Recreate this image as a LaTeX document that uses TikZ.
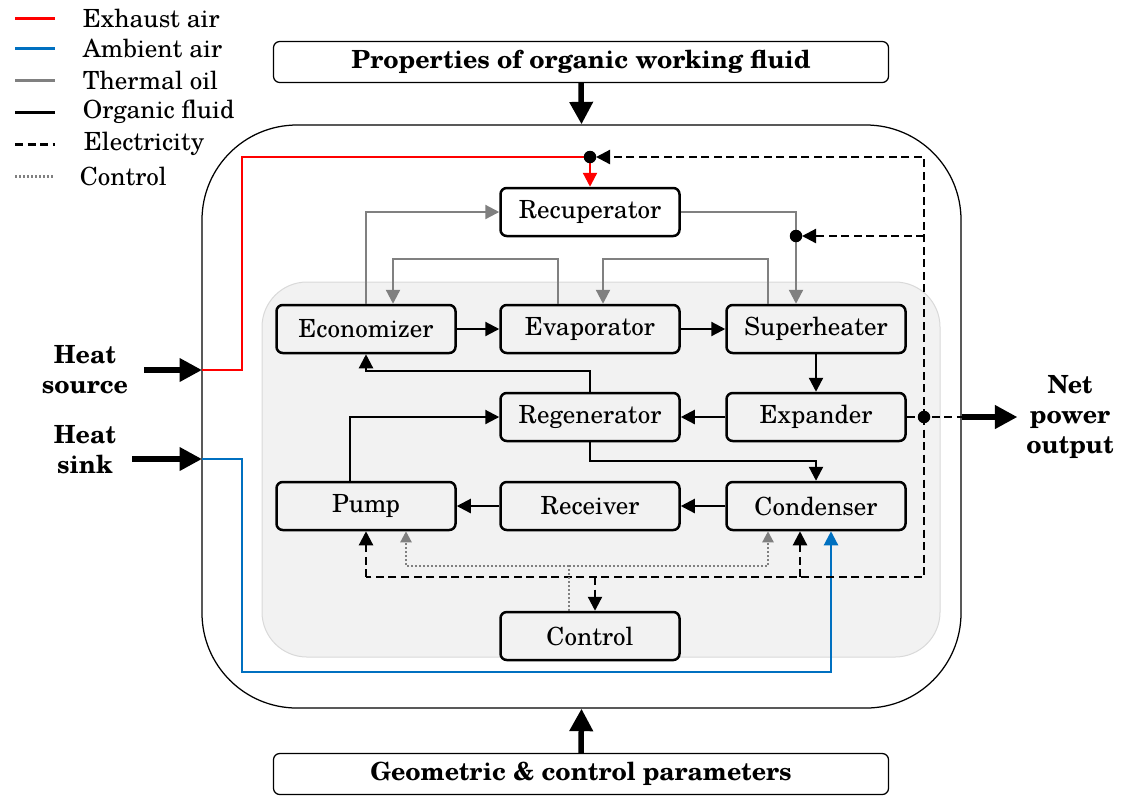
\documentclass[tikz,border=0pt]{standalone}
\usepackage{fontspec}
\setmainfont{TeX Gyre Schola}
\usetikzlibrary{arrows.meta}
\definecolor{ambientblue}{RGB}{0,112,192}

\begin{document}
\begin{tikzpicture}[x=0.4pt,y=-0.4pt,
        every node/.style={font=\fontsize{10}{12}\selectfont},
        unit/.style={draw=black,line width=1pt,rounded corners=2.5pt,fill=gray!10,minimum width=71.6pt,minimum height=19.2pt,inner sep=0pt},
        param/.style={draw=black,line width=0.5pt,rounded corners=2.5pt,fill=white,minimum width=246pt,minimum height=16.4pt,inner sep=0pt,font=\fontsize{10}{12}\selectfont\bfseries},
        side/.style={align=center,font=\fontsize{10}{12}\selectfont\bfseries},
        fluid/.style={draw=black,line width=0.9pt,-{Triangle[length=5.6pt,width=5.6pt]}},
        oil/.style={draw=gray,line width=0.9pt,-{Triangle[length=5.6pt,width=5.6pt]}},
        exhaust/.style={draw=red,line width=0.9pt,-{Triangle[length=5.6pt,width=5.6pt]}},
        ambient/.style={draw=ambientblue,line width=0.9pt,-{Triangle[length=5.6pt,width=5.6pt]}},
        elec/.style={draw=black,line width=0.9pt,dash pattern=on 3.2pt off 1.8pt,-{Triangle[length=5.6pt,width=5.6pt]}},
        ctrlline/.style={draw=gray,line width=0.9pt,dash pattern=on 0.8pt off 0.8pt,-{Triangle[length=4.4pt,width=4.4pt]}},
        big/.style={draw=black,line width=2.2pt,-{Triangle[length=9pt,width=9pt]}}]
        \useasboundingbox (0,0) rectangle (1124,796);

        % legend
        \draw[red,line width=1.2pt] (15,18) -- (55,18);
        \draw[ambientblue,line width=1.2pt] (15,48) -- (55,48);
        \draw[gray,line width=1.2pt] (15,80) -- (55,80);
        \draw[black,line width=1.2pt] (15,112) -- (55,112);
        \draw[black,line width=1.2pt,dash pattern=on 3.2pt off 1.8pt] (15,144) -- (55,144);
        \draw[gray,line width=1.2pt,dash pattern=on 0.8pt off 0.8pt] (15,176) -- (55,176);
        \node[anchor=west] (lg1) at (74,18) {Exhaust air};
        \node[anchor=west] (lg2) at (74,48) {Ambient air};
        \node[anchor=west] (lg3) at (74,80) {Thermal oil};
        \node[anchor=west] (lg4) at (74,112) {Organic fluid};
        \node[anchor=west] (lg5) at (75,144) {Electricity};
        \node[anchor=west] (lg6) at (71,176) {Control};

        % system frame
        \node[draw=black,line width=0.5pt,rounded corners=38pt,minimum width=303.6pt,minimum height=233.2pt,inner sep=0pt] (orc) at (581.5,416.5) {};
        \node[draw=gray!30,fill=gray!10,rounded corners=18pt,minimum width=271.2pt,minimum height=150pt,inner sep=0pt] (core) at (601,469.5) {};

        \node[param] (props) at (581,62) {Properties of organic working fluid};
        \node[param] (geom) at (581,774) {Geometric \& control parameters};

        \node[side] (hsrc) at (85,370) {Heat\\source};
        \node[side] (hsnk) at (85,450) {Heat\\sink};
        \node[side] (npo) at (1070,417) {Net\\power\\output};

        \node[unit,fill=white] (rec) at (590,212) {Recuperator};
        \node[unit] (eco) at (366,329) {Economizer};
        \node[unit] (eva) at (590,329) {Evaporator};
        \node[unit] (sup) at (816,329) {Superheater};
        \node[unit] (reg) at (590,417) {Regenerator};
        \node[unit] (exp) at (816,417) {Expander};
        \node[unit] (pump) at (366,506) {Pump};
        \node[unit] (rcv) at (590,506) {Receiver};
        \node[unit] (cond) at (816,506) {Condenser};
        \node[unit] (ctrl) at (590,636) {Control};

        \coordinate (srcin) at (202,370);
        \coordinate (snkin) at (202,459);
        \coordinate (dotA) at (590,157);
        \coordinate (dotB) at (796,236);
        \coordinate (netdot) at (924,417);
        \coordinate (busS) at (924,577);
        \coordinate (cjoin) at (569,566);
        \coordinate (blueturn) at (242,672);
        \coordinate (condA) at ([xshift=6pt]cond.south);
        \coordinate (condE) at ([xshift=-6.4pt]cond.south);
        \coordinate (ctrlE) at ([xshift=2pt]ctrl.north);

        \draw[big] (props.south) -- (orc.north);
        \draw[big] (geom.north) -- (orc.south);
        \draw[big] ([xshift=3pt]hsrc.east |- srcin) -- (srcin);
        \draw[big] ([xshift=3pt]hsnk.east |- snkin) -- (snkin);

        % organic fluid
        \path[fluid] (eco) edge (eva);
        \path[fluid] (eva) edge (sup);
        \path[fluid] (sup) edge (exp);
        \path[fluid] (exp) edge (reg);
        \path[fluid] (cond) edge (rcv);
        \path[fluid] (rcv) edge (pump);
        \draw[fluid] (reg.south) -- ++(0,19) -| (cond.north);
        \draw[fluid] ([xshift=-6.4pt]pump.north) |- (reg.west);
        \draw[fluid] (reg.north) -- ++(0,-21) -| (eco.south);

        % thermal oil
        \draw[oil] (eco.north) |- (rec.west);
        \draw[oil] (rec.east) -| ([xshift=-8pt]sup.north);
        \draw[oil] ([xshift=-12.8pt]eva.north) -- ++(0,-45) -| ([xshift=10.8pt]eco.north);
        \draw[oil] ([xshift=-19.2pt]sup.north) -- ++(0,-45) -| ([xshift=5.2pt]eva.north);

        % air
        \draw[exhaust] (srcin) -- (242,370) |- (dotA) -- (rec.north);
        \draw[ambient] (snkin) -- (242,459) -- (blueturn) -| (condA);

        % electricity
        \draw[elec,shorten >=2.4pt] (netdot) |- (dotA);
        \draw[elec,shorten >=2.4pt] (netdot |- dotB) -- (dotB);
        \draw[elec,-] (exp.east) -- (netdot) -- (netdot -| orc.east);
        \draw[big] (netdot -| orc.east) -- (npo.west |- netdot);
        \draw[elec,-] (netdot) -- (busS) -- (busS -| pump.south);
        \draw[elec] (busS -| pump.south) -- (pump.south);
        \draw[elec] (busS -| condE) -- (condE);
        \draw[elec] (busS -| ctrlE) -- (ctrlE);
        \fill (dotA) circle (2.5pt);
        \fill (dotB) circle (2.5pt);
        \fill (netdot) circle (2.5pt);

        % control
        \draw[ctrlline,-] (ctrl.north -| cjoin) -- (cjoin);
        \draw[ctrlline] (cjoin) -| ([xshift=16pt]pump.south);
        \draw[ctrlline] (cjoin) -| ([xshift=-19.2pt]cond.south);
    \end{tikzpicture}
\end{document}
